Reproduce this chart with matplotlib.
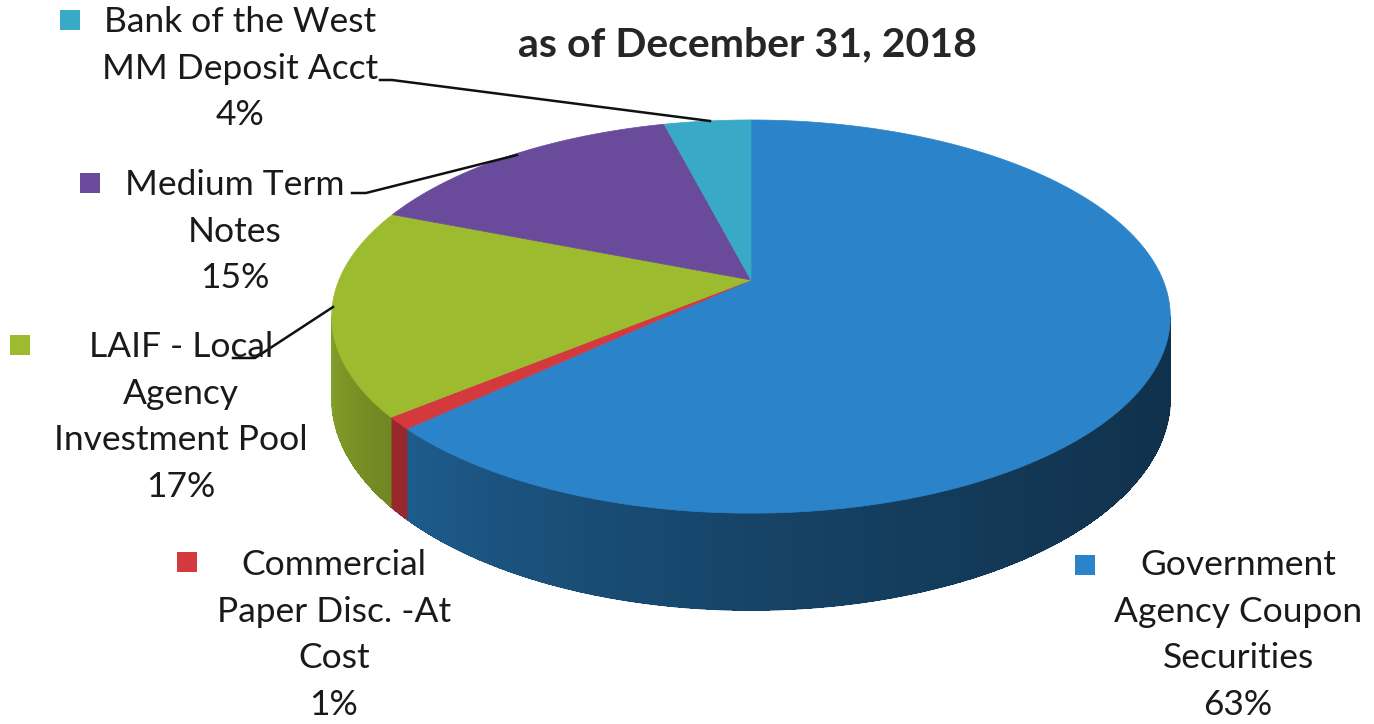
import numpy as np
import matplotlib.pyplot as plt
from matplotlib.patches import Polygon, Rectangle
from matplotlib.colors import to_rgb

# data
labels = ["Government\nAgency Coupon\nSecurities",
          "Commercial\nPaper Disc. -At\nCost",
          "LAIF - Local\nAgency\nInvestment Pool",
          "Medium Term\nNotes",
          "Bank of the West\nMM Deposit Acct"]
pcts = [63, 1, 17, 15, 4]
top_colors = ["#2b84ca", "#d43a3d", "#9dbb2f", "#6a4b9b", "#38a9c7"]
title = "as of December 31, 2018"

# label block layout (center x, first line y, key square x, key y)
lab_pos = [(1238, 565, 1085, 565),
           (334, 565, 187, 562),
           (181, 347, 20, 345),
           (235, 185, 90, 183),
           (240, 22, 70, 20)]
leaders = {2: [(233, 358), (255, 358), (333, 307)],
           3: [(352, 193), (366, 193), (517, 155)],
           4: [(380, 80), (392, 80), (710, 121)]}

plt.rcParams['font.family'] = ['Lato', 'DejaVu Sans']

fig = plt.figure(figsize=(13.74, 7.24), dpi=100)
ax = fig.add_axes([0, 0, 1, 1])
ax.set_xlim(0, 1374)
ax.set_ylim(724, 0)
ax.axis('off')

# pseudo-3D projection of the pie disc
cx, cy, a, b, k, h = 751, 280, 412, 189.8, 0.186, 79


def proj(th, r=1.0, drop=0.0):
    u, v = r * np.cos(th), r * np.sin(th)
    d = 1 + k * v
    return cx + a * u / d, cy - b * v / d + drop * h / d


# slice angles, clockwise from 12 o'clock
cum = np.cumsum([0] + pcts) / 100.0
starts = np.pi / 2 - 2 * np.pi * cum[:-1]
ends = np.pi / 2 - 2 * np.pi * cum[1:]

th_l = -np.pi + np.arcsin(k)
th_r = -np.arcsin(k)


def shade(th):
    t = (th_r - th) / (th_r - th_l)
    return 0.37 + 0.5 * t ** 1.8


# sides (only the front part of the rim shows)
for i in range(len(pcts)):
    base = np.array(to_rgb(top_colors[i]))
    for off in (0, 2 * np.pi):
        s0, s1 = starts[i] + off, ends[i] + off
        a0, a1 = max(s1, th_l), min(s0, th_r)
        if a1 <= a0:
            continue
        # one solid strip first so no seams show through
        ths = np.linspace(a0, a1, 200)
        xt, yt = proj(ths)
        xb, yb = proj(ths[::-1], drop=1)
        cm = np.clip(base * shade(0.5 * (a0 + a1)), 0, 1)
        ax.add_patch(Polygon(list(zip(xt, yt)) + list(zip(xb, yb)),
                             closed=True, fc=cm, ec=cm, lw=0.8))
        ths = np.linspace(a0, a1, max(3, int((a1 - a0) * 180 / np.pi) + 2))
        for j in range(len(ths) - 1):
            t0, t1 = ths[j], ths[j + 1]
            x0, y0 = proj(t0)
            x1, y1 = proj(t1)
            x2, y2 = proj(t1, drop=1)
            x3, y3 = proj(t0, drop=1)
            c = np.clip(base * shade(0.5 * (t0 + t1)), 0, 1)
            ax.add_patch(Polygon([(x0, y0), (x1, y1), (x2, y2), (x3, y3)],
                                 closed=True, fc=c, ec='none', lw=0,
                                 antialiased=False))

# top faces
for i in range(len(pcts)):
    ths = np.linspace(starts[i], ends[i], 120)
    xs, ys = proj(ths)
    pts = [(cx, cy)] + list(zip(xs, ys))
    ax.add_patch(Polygon(pts, closed=True, fc=top_colors[i], ec=top_colors[i], lw=0.5))

# labels
for i, lab in enumerate(labels):
    tx, ty, kx, ky = lab_pos[i]
    lines = lab.split("\n") + ["%d%%" % pcts[i]]
    for n, line in enumerate(lines):
        ax.text(tx, ty + 46.7 * n, line, ha='center', va='center',
                fontsize=25.5, color='#1a1a1a')
    ax.add_patch(Rectangle((kx - 10, ky - 10), 20, 20, fc=top_colors[i], ec='none'))

for i, pts in leaders.items():
    xs, ys = zip(*pts)
    ax.plot(xs, ys, color='#111111', lw=1.8)

ax.text(747, 45, title, ha='center', va='center', fontsize=29.5,
        fontweight='bold', color='#262626')

fig.savefig("out.png", dpi=100)
